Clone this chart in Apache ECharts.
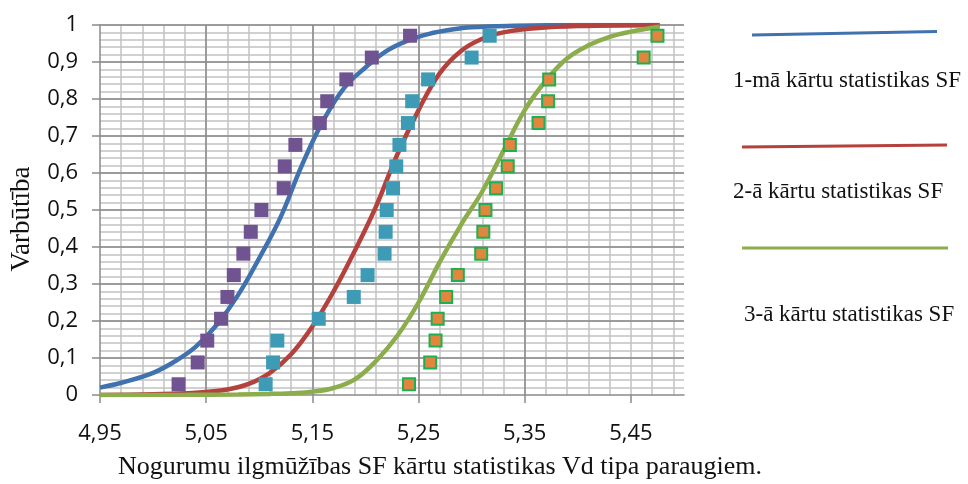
<!DOCTYPE html>
<html>
<head>
<meta charset="utf-8">
<script src="https://cdn.jsdelivr.net/npm/echarts@6/dist/echarts.min.js"></script>
<style>html,body{margin:0;padding:0;background:#fff}#c{width:968px;height:484px}</style>
</head>
<body>
<div id="c"></div>
<script>
// ---- data ----
const xTicks = [4.95, 5.05, 5.15, 5.25, 5.35, 5.45];
const seriesNames = ['1-mā kārtu statistikas SF', '2-ā kārtu statistikas SF', '3-ā kārtu statistikas SF'];

// fitted curves
const curve1X = [4.95, 4.97, 5.00, 5.02, 5.04, 5.06, 5.08, 5.10, 5.12, 5.14, 5.16, 5.18, 5.20, 5.22, 5.24, 5.26, 5.28, 5.30, 5.34, 5.40, 5.477];
const curve1Y = [0.02, 0.033, 0.06, 0.09, 0.13, 0.19, 0.27, 0.37, 0.48, 0.62, 0.74, 0.83, 0.885, 0.93, 0.958, 0.976, 0.987, 0.994, 0.998, 1.0, 1.0];

const curve2X = [4.95, 5.00, 5.04, 5.07, 5.09, 5.11, 5.13, 5.15, 5.17, 5.19, 5.21, 5.23, 5.25, 5.27, 5.29, 5.31, 5.33, 5.36, 5.40, 5.477];
const curve2Y = [0.0, 0.002, 0.006, 0.015, 0.03, 0.06, 0.11, 0.185, 0.28, 0.39, 0.51, 0.65, 0.77, 0.87, 0.93, 0.963, 0.98, 0.991, 0.997, 1.0];

const curve3X = [4.95, 5.03, 5.08, 5.11, 5.13, 5.15, 5.17, 5.19, 5.21, 5.23, 5.25, 5.27, 5.29, 5.31, 5.33, 5.35, 5.37, 5.39, 5.41, 5.43, 5.45, 5.477];
const curve3Y = [0.0, 0.0005, 0.0015, 0.003, 0.005, 0.009, 0.019, 0.042, 0.092, 0.16, 0.25, 0.36, 0.46, 0.55, 0.66, 0.77, 0.85, 0.91, 0.945, 0.968, 0.982, 0.995];

// empirical points
const probY = [0.029, 0.088, 0.147, 0.206, 0.265, 0.324, 0.382, 0.441, 0.5, 0.559, 0.618, 0.676, 0.735, 0.794, 0.853, 0.912, 0.971];
const points1X = [5.024, 5.042, 5.051, 5.064, 5.070, 5.076, 5.085, 5.092, 5.102, 5.123, 5.124, 5.134, 5.157, 5.164, 5.182, 5.206, 5.242];
const points2X = [5.106, 5.113, 5.117, 5.156, 5.189, 5.202, 5.218, 5.219, 5.220, 5.226, 5.229, 5.232, 5.240, 5.244, 5.259, 5.300, 5.317];
const points3X = [5.241, 5.261, 5.266, 5.268, 5.276, 5.287, 5.309, 5.311, 5.313, 5.323, 5.334, 5.336, 5.363, 5.372, 5.373, 5.462, 5.475];

const zip = (xs, ys) => xs.map((x, i) => [x, ys[i]]);

const lineColors = ['#3f72ae', '#b5413d', '#8cad4b'];
const MAJOR = '#8a8a8a', MINOR = '#c2c2c2';
const tickFont = {fontFamily: 'Open Sans', fontSize: 22, color: '#111'};

const chart = echarts.init(document.getElementById('c'), null, {renderer: 'canvas'});
chart.setOption({
  animation: false,
  backgroundColor: '#fff',
  grid: {left: 100, top: 25, width: 584, height: 370},
  xAxis: [
    {
      type: 'value', min: 4.95, max: 5.5, interval: 0.1, z: 1,
      axisLine: {show: true, onZero: false, lineStyle: {color: MAJOR, width: 1.5}},
      axisTick: {show: true, length: 8, lineStyle: {color: MAJOR, width: 1.5}, customValues: xTicks},
      axisLabel: {margin: 28, customValues: xTicks, formatter: v => v.toFixed(2).replace('.', ','), ...tickFont},
      splitLine: {show: true, showMinLine: false, showMaxLine: false, lineStyle: {color: MAJOR, width: 1.5}}
    },
    {
      type: 'value', min: 4.95, max: 5.5, interval: 0.02, z: 0, position: 'top',
      axisLine: {show: false}, axisTick: {show: false}, axisLabel: {show: false},
      splitLine: {show: true, showMinLine: false, showMaxLine: false, lineStyle: {color: MINOR, width: 1.5}}
    }
  ],
  yAxis: [
    {
      type: 'value', min: 0, max: 1, interval: 0.1, z: 1,
      axisLine: {show: true, onZero: false, lineStyle: {color: MAJOR, width: 1.5}},
      axisTick: {show: true, length: 8, lineStyle: {color: MAJOR, width: 1.5}},
      axisLabel: {margin: 22, formatter: v => String(+v.toFixed(1)).replace('.', ','), ...tickFont},
      splitLine: {show: true, showMinLine: false, lineStyle: {color: MAJOR, width: 1.5}}
    },
    {
      type: 'value', min: 0, max: 1, interval: 0.02, z: 0, position: 'right',
      axisLine: {show: false}, axisTick: {show: false}, axisLabel: {show: false},
      splitLine: {show: true, showMinLine: false, lineStyle: {color: MINOR, width: 1.5}}
    }
  ],
  series: [
    {name: seriesNames[0], type: 'line', data: zip(curve1X, curve1Y), smooth: 0.4, showSymbol: false, z: 3, lineStyle: {color: lineColors[0], width: 4.5}, itemStyle: {color: lineColors[0]}},
    {name: seriesNames[1], type: 'line', data: zip(curve2X, curve2Y), smooth: 0.4, showSymbol: false, z: 3, lineStyle: {color: lineColors[1], width: 4.5}, itemStyle: {color: lineColors[1]}},
    {name: seriesNames[2], type: 'line', data: zip(curve3X, curve3Y), smooth: 0.4, showSymbol: false, z: 3, lineStyle: {color: lineColors[2], width: 4.5}, itemStyle: {color: lineColors[2]}},
    {name: 'p1', type: 'scatter', data: zip(points1X, probY), symbol: 'rect', symbolSize: 14, z: 4, itemStyle: {color: '#705491', opacity: 1}},
    {name: 'p2', type: 'scatter', data: zip(points2X, probY), symbol: 'rect', symbolSize: 14, z: 4, itemStyle: {color: '#3d9bb5', opacity: 1}},
    {name: 'p3', type: 'scatter', data: zip(points3X, probY), symbol: 'rect', symbolSize: 12, z: 4, itemStyle: {color: '#e0863e', borderColor: '#1cb052', borderWidth: 2, opacity: 1}}
  ],
  graphic: [
    {type: 'text', x: 22, y: 219, rotation: Math.PI / 2, style: {text: 'Varbūtība', font: '27px "Liberation Serif"', fill: '#111', align: 'center', verticalAlign: 'middle'}},
    {type: 'text', x: 440, y: 467, style: {text: 'Nogurumu ilgmūžības SF kārtu statistikas Vd tipa paraugiem.', font: '26px "Liberation Serif"', fill: '#111', align: 'center', verticalAlign: 'middle'}},
    {type: 'line', shape: {x1: 752, y1: 35, x2: 937, y2: 31.5}, style: {stroke: lineColors[0], lineWidth: 3}},
    {type: 'text', x: 733, y: 81, style: {text: seriesNames[0], font: '23px "Liberation Serif"', fill: '#111', align: 'left', verticalAlign: 'middle'}},
    {type: 'line', shape: {x1: 742, y1: 147, x2: 947, y2: 145}, style: {stroke: lineColors[1], lineWidth: 3}},
    {type: 'text', x: 733, y: 192, style: {text: seriesNames[1], font: '23px "Liberation Serif"', fill: '#111', align: 'left', verticalAlign: 'middle'}},
    {type: 'line', shape: {x1: 742, y1: 248, x2: 948, y2: 248}, style: {stroke: lineColors[2], lineWidth: 3}},
    {type: 'text', x: 744, y: 315, style: {text: seriesNames[2], font: '23px "Liberation Serif"', fill: '#111', align: 'left', verticalAlign: 'middle'}}
  ]
});
</script>
</body>
</html>
